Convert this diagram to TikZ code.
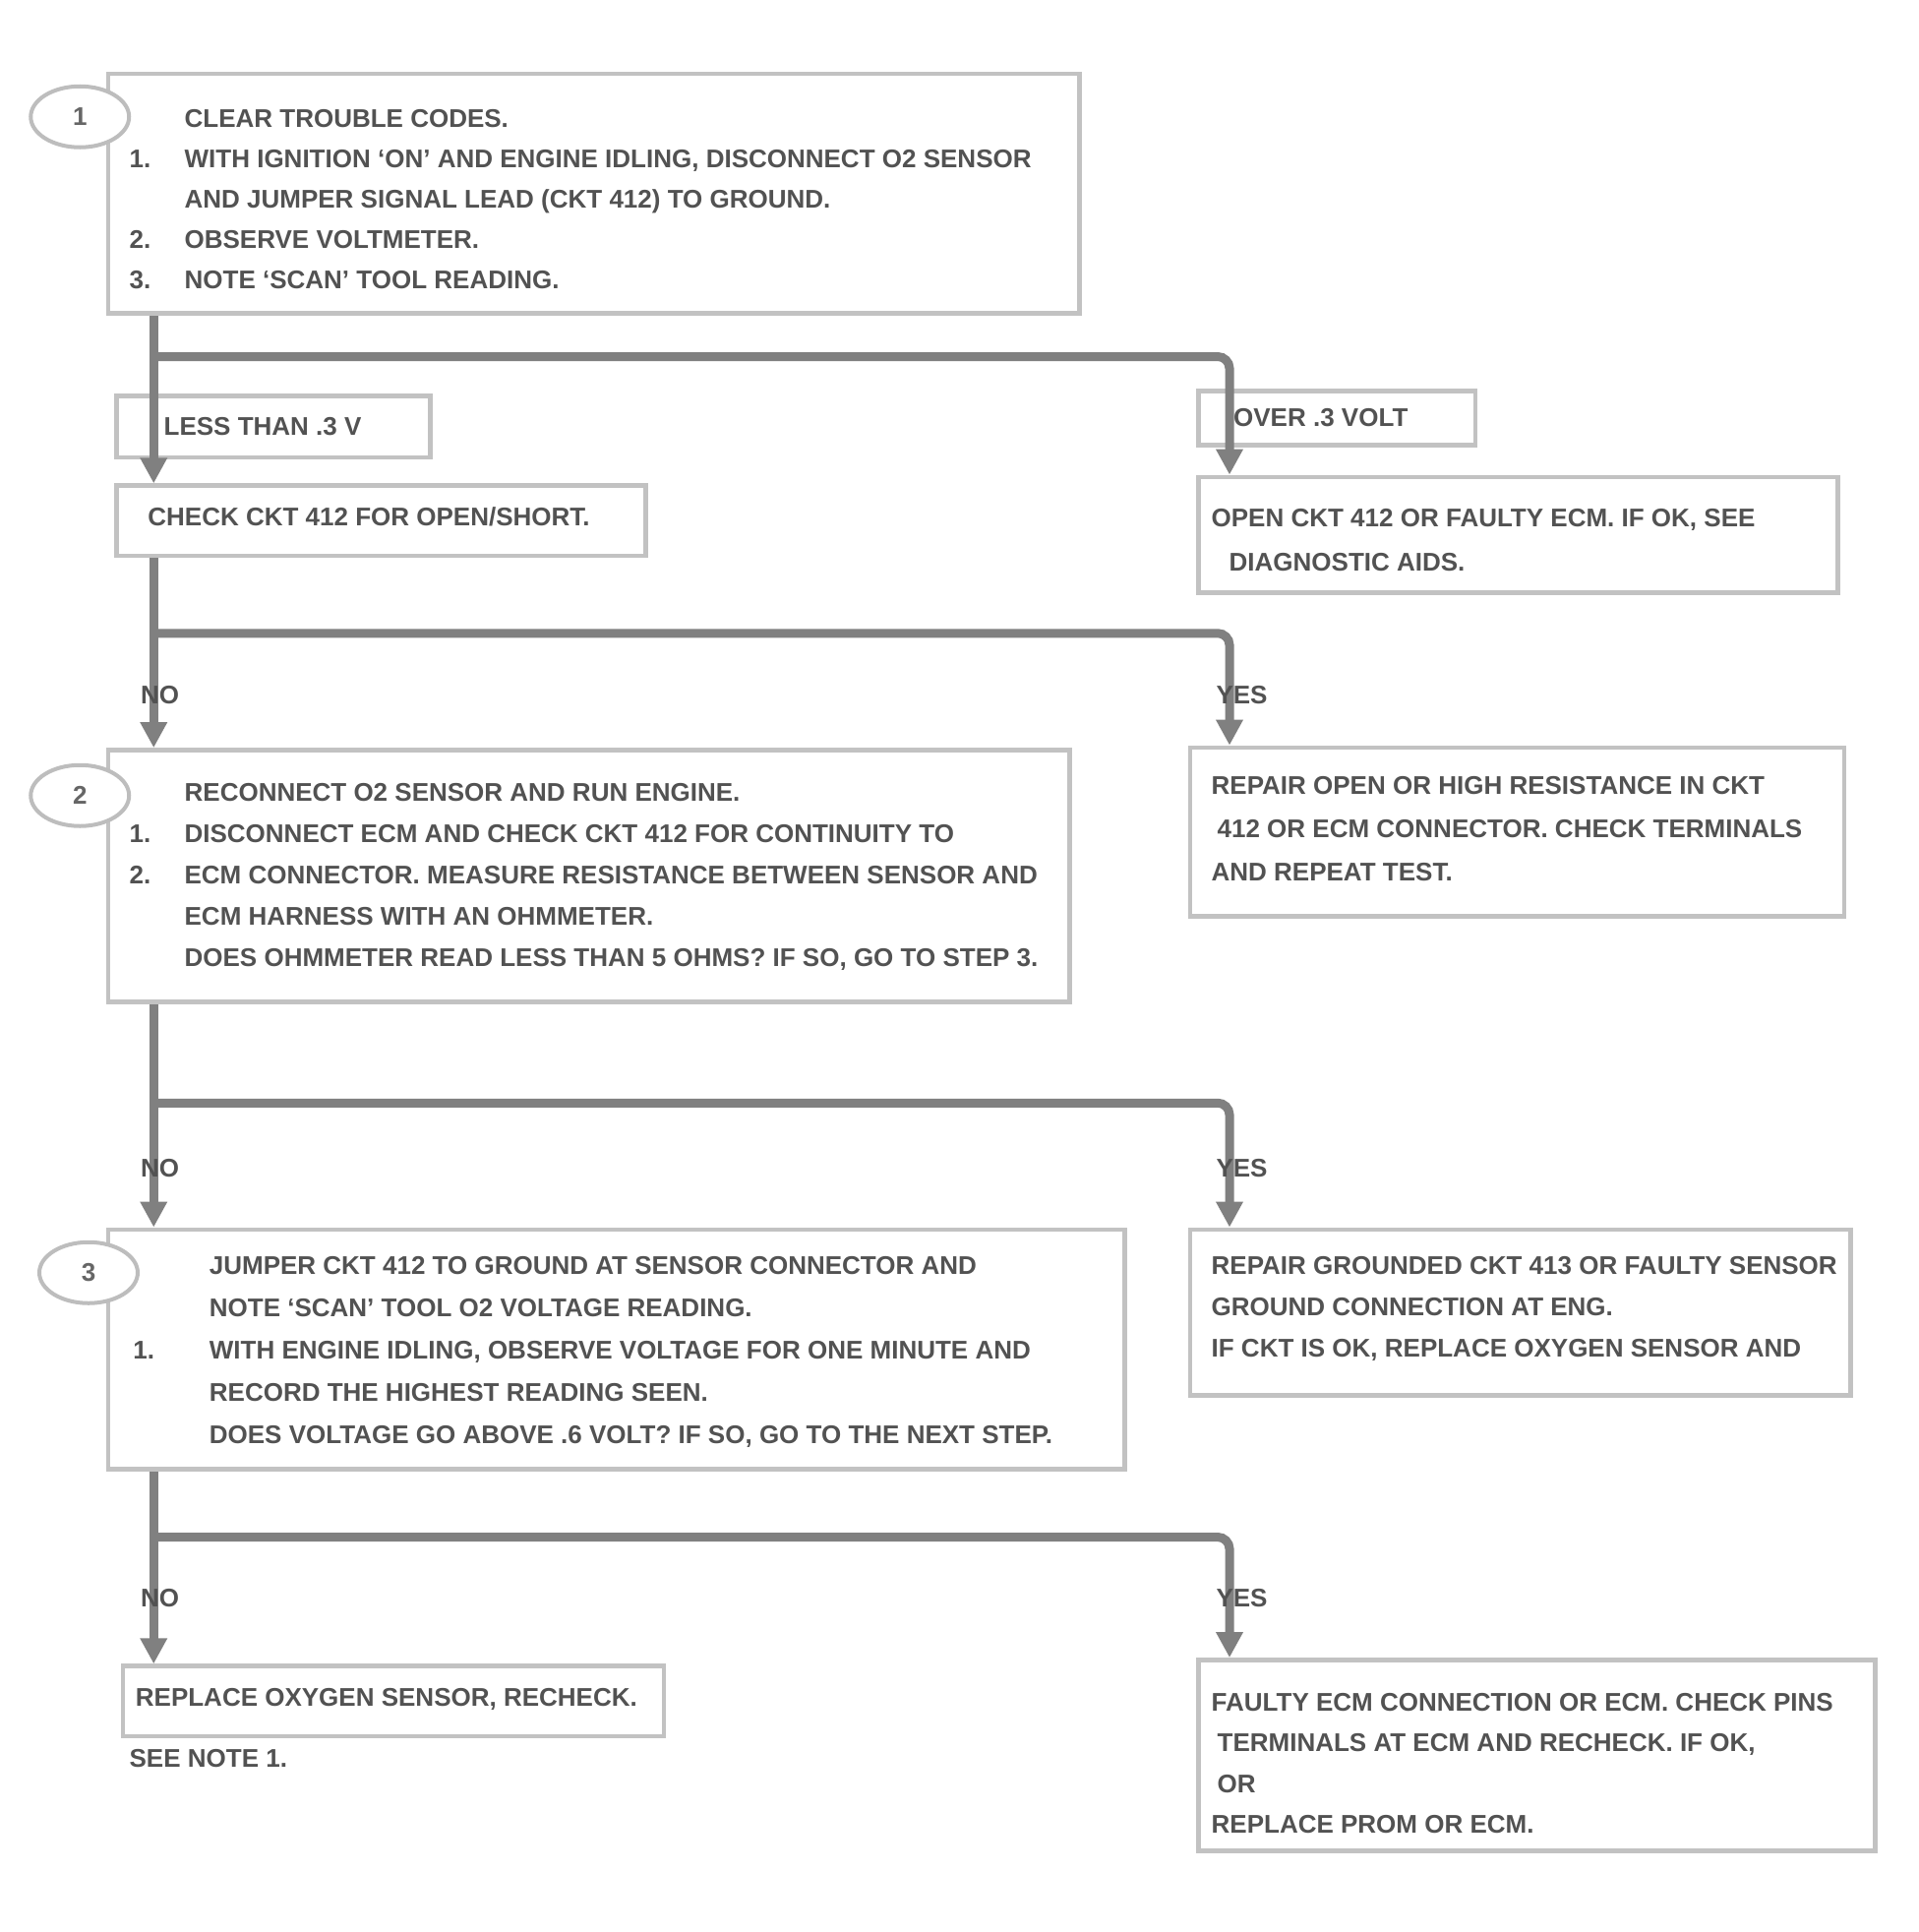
\documentclass[tikz,border=0pt]{standalone}
\usepackage{fontspec}
\setmainfont{Liberation Sans}
\usetikzlibrary{arrows.meta,shapes.geometric}
\begin{document}
\begin{tikzpicture}[x=0.625pt,y=-0.625pt,
  box/.style={draw=black!24, line width=2.4pt, inner sep=0pt},
  txt/.style={anchor=north west, inner sep=0pt, text=black!68, font=\bfseries\fontsize{13}{#1}\selectfont},
  txt/.default={21},
  lbl/.style={inner sep=0pt, text=black!68, font=\bfseries\fontsize{13}{21}\selectfont},
  stepno/.style={ellipse, draw=black!26, line width=2pt, fill=white, minimum width=50pt, minimum height=31pt, inner sep=0pt, text=black!60, font=\bfseries\fontsize{13}{15}\selectfont},
  flow/.style={draw=black!50, line width=4.5pt, rounded corners=6pt},
  flowa/.style={flow, -{Triangle[length=13pt,width=13pt]}}]
\useasboundingbox (0,0) rectangle (1560,1571.2);
\coordinate (T) at (125,0);
\coordinate (R) at (1000,0);

% ---- boxes
\node[box, minimum width=493.75pt, minimum height=121.9pt] (b1) at (483,157.5) {};
\node[box, minimum width=159.4pt, minimum height=31.2pt] (l1L) at (222.5,347) {};
\node[box, minimum width=140.6pt, minimum height=27.5pt] (l1R) at (1087.5,340) {};
\node[box, minimum width=268.75pt, minimum height=35.6pt] (lb1) at (310,423.5) {};
\node[box, minimum width=325pt, minimum height=58.75pt] (rb1) at (1235,435) {};
\node[box, minimum width=488.75pt, minimum height=128.1pt] (b2) at (479,712.5) {};
\node[box, minimum width=332.5pt, minimum height=85.6pt] (rb2) at (1234,676.5) {};
\node[box, minimum width=516.9pt, minimum height=121.9pt] (b3) at (501.5,1097.5) {};
\node[box, minimum width=335.6pt, minimum height=84.4pt] (rb3) at (1236.5,1067.5) {};
\node[box, minimum width=275pt, minimum height=35.6pt] (bl) at (320,1383.5) {};
\node[box, minimum width=343.75pt, minimum height=96.9pt] (br) at (1250,1427.5) {};

% ---- connectors
\coordinate (j1) at (125,290);
\coordinate (j2) at (125,515);
\coordinate (j3) at (125,897);
\coordinate (j4) at (125,1250);
\draw[flowa] (b1.south -| T) -- (lb1.north -| T);
\draw[flowa] (j1) -- (j1 -| R) -- (rb1.north -| R);
\draw[flowa] (lb1.south -| T) -- (b2.north -| T);
\draw[flowa] (j2) -- (j2 -| R) -- (rb2.north -| R);
\draw[flowa] (b2.south -| T) -- (b3.north -| T);
\draw[flowa] (j3) -- (j3 -| R) -- (rb3.north -| R);
\draw[flowa] (b3.south -| T) -- (bl.north -| T);
\draw[flowa] (j4) -- (j4 -| R) -- (br.north -| R);

% ---- step numbers
\node[stepno] (s1) at (65,95) {1};
\node[stepno] (s2) at (65,647) {2};
\node[stepno] (s3) at (72,1035) {3};

% ---- texts
\node[txt=20.5] (t1) at (105,80) {\begin{tabular}{@{}p{28pt}@{}l@{}}
 & CLEAR TROUBLE CODES.\\
1. & WITH IGNITION `ON' AND ENGINE IDLING, DISCONNECT O2 SENSOR\\
 & AND JUMPER SIGNAL LEAD (CKT 412) TO GROUND.\\
2. & OBSERVE VOLTMETER.\\
3. & NOTE `SCAN' TOOL READING.\end{tabular}};
\node[lbl, anchor=west] (t1L) at (133,347) {LESS THAN .3 V};
\node[lbl, anchor=west] (t1R) at (1003,340) {OVER .3 VOLT};
\node[txt] (tlb1) at (120,412.5) {CHECK CKT 412 FOR OPEN/SHORT.};
\node[txt=22.5] (trb1) at (985,403) {\begin{tabular}{@{}l@{}}
OPEN CKT 412 OR FAULTY ECM. IF OK, SEE\\
\hspace{9pt}DIAGNOSTIC AIDS.\end{tabular}};
\node[lbl] (y2L) at (130,565) {NO};
\node[lbl] (y2R) at (1010,565) {YES};
\node[txt] (t2) at (105,627.5) {\begin{tabular}{@{}p{28pt}@{}l@{}}
 & RECONNECT O2 SENSOR AND RUN ENGINE.\\
1. & DISCONNECT ECM AND CHECK CKT 412 FOR CONTINUITY TO\\
2. & ECM CONNECTOR. MEASURE RESISTANCE BETWEEN SENSOR AND\\
 & ECM HARNESS WITH AN OHMMETER.\\
 & DOES OHMMETER READ LESS THAN 5 OHMS? IF SO, GO TO STEP 3.\end{tabular}};
\node[txt=21.9] (trb2) at (985,621.5) {\begin{tabular}{@{}l@{}}
REPAIR OPEN OR HIGH RESISTANCE IN CKT\\
\hspace{3pt}412 OR ECM CONNECTOR. CHECK TERMINALS\\
AND REPEAT TEST.\end{tabular}};
\node[lbl] (y3L) at (130,950) {NO};
\node[lbl] (y3R) at (1010,950) {YES};
\node[txt=21.5] (t3) at (108,1012) {\begin{tabular}{@{}p{38.75pt}@{}l@{}}
 & JUMPER CKT 412 TO GROUND AT SENSOR CONNECTOR AND\\
 & NOTE `SCAN' TOOL O2 VOLTAGE READING.\\
1. & WITH ENGINE IDLING, OBSERVE VOLTAGE FOR ONE MINUTE AND\\
 & RECORD THE HIGHEST READING SEEN.\\
 & DOES VOLTAGE GO ABOVE .6 VOLT? IF SO, GO TO THE NEXT STEP.\end{tabular}};
\node[txt] (trb3) at (985,1012.5) {\begin{tabular}{@{}l@{}}
REPAIR GROUNDED CKT 413 OR FAULTY SENSOR\\
GROUND CONNECTION AT ENG.\\
IF CKT IS OK, REPLACE OXYGEN SENSOR AND\end{tabular}};
\node[lbl] (y4L) at (130,1300) {NO};
\node[lbl] (y4R) at (1010,1300) {YES};
\node[txt] (tbl) at (110,1372.5) {REPLACE OXYGEN SENSOR, RECHECK.};
\node[txt] (tbl2) at (105,1422.5) {SEE NOTE 1.};
\node[txt=20.8] (tbr) at (985,1367.7) {\begin{tabular}{@{}l@{}}
FAULTY ECM CONNECTION OR ECM. CHECK PINS\\
\hspace{3pt}TERMINALS AT ECM AND RECHECK. IF OK,\\
\hspace{3pt}OR\\
REPLACE PROM OR ECM.\end{tabular}};
\end{tikzpicture}
\end{document}
